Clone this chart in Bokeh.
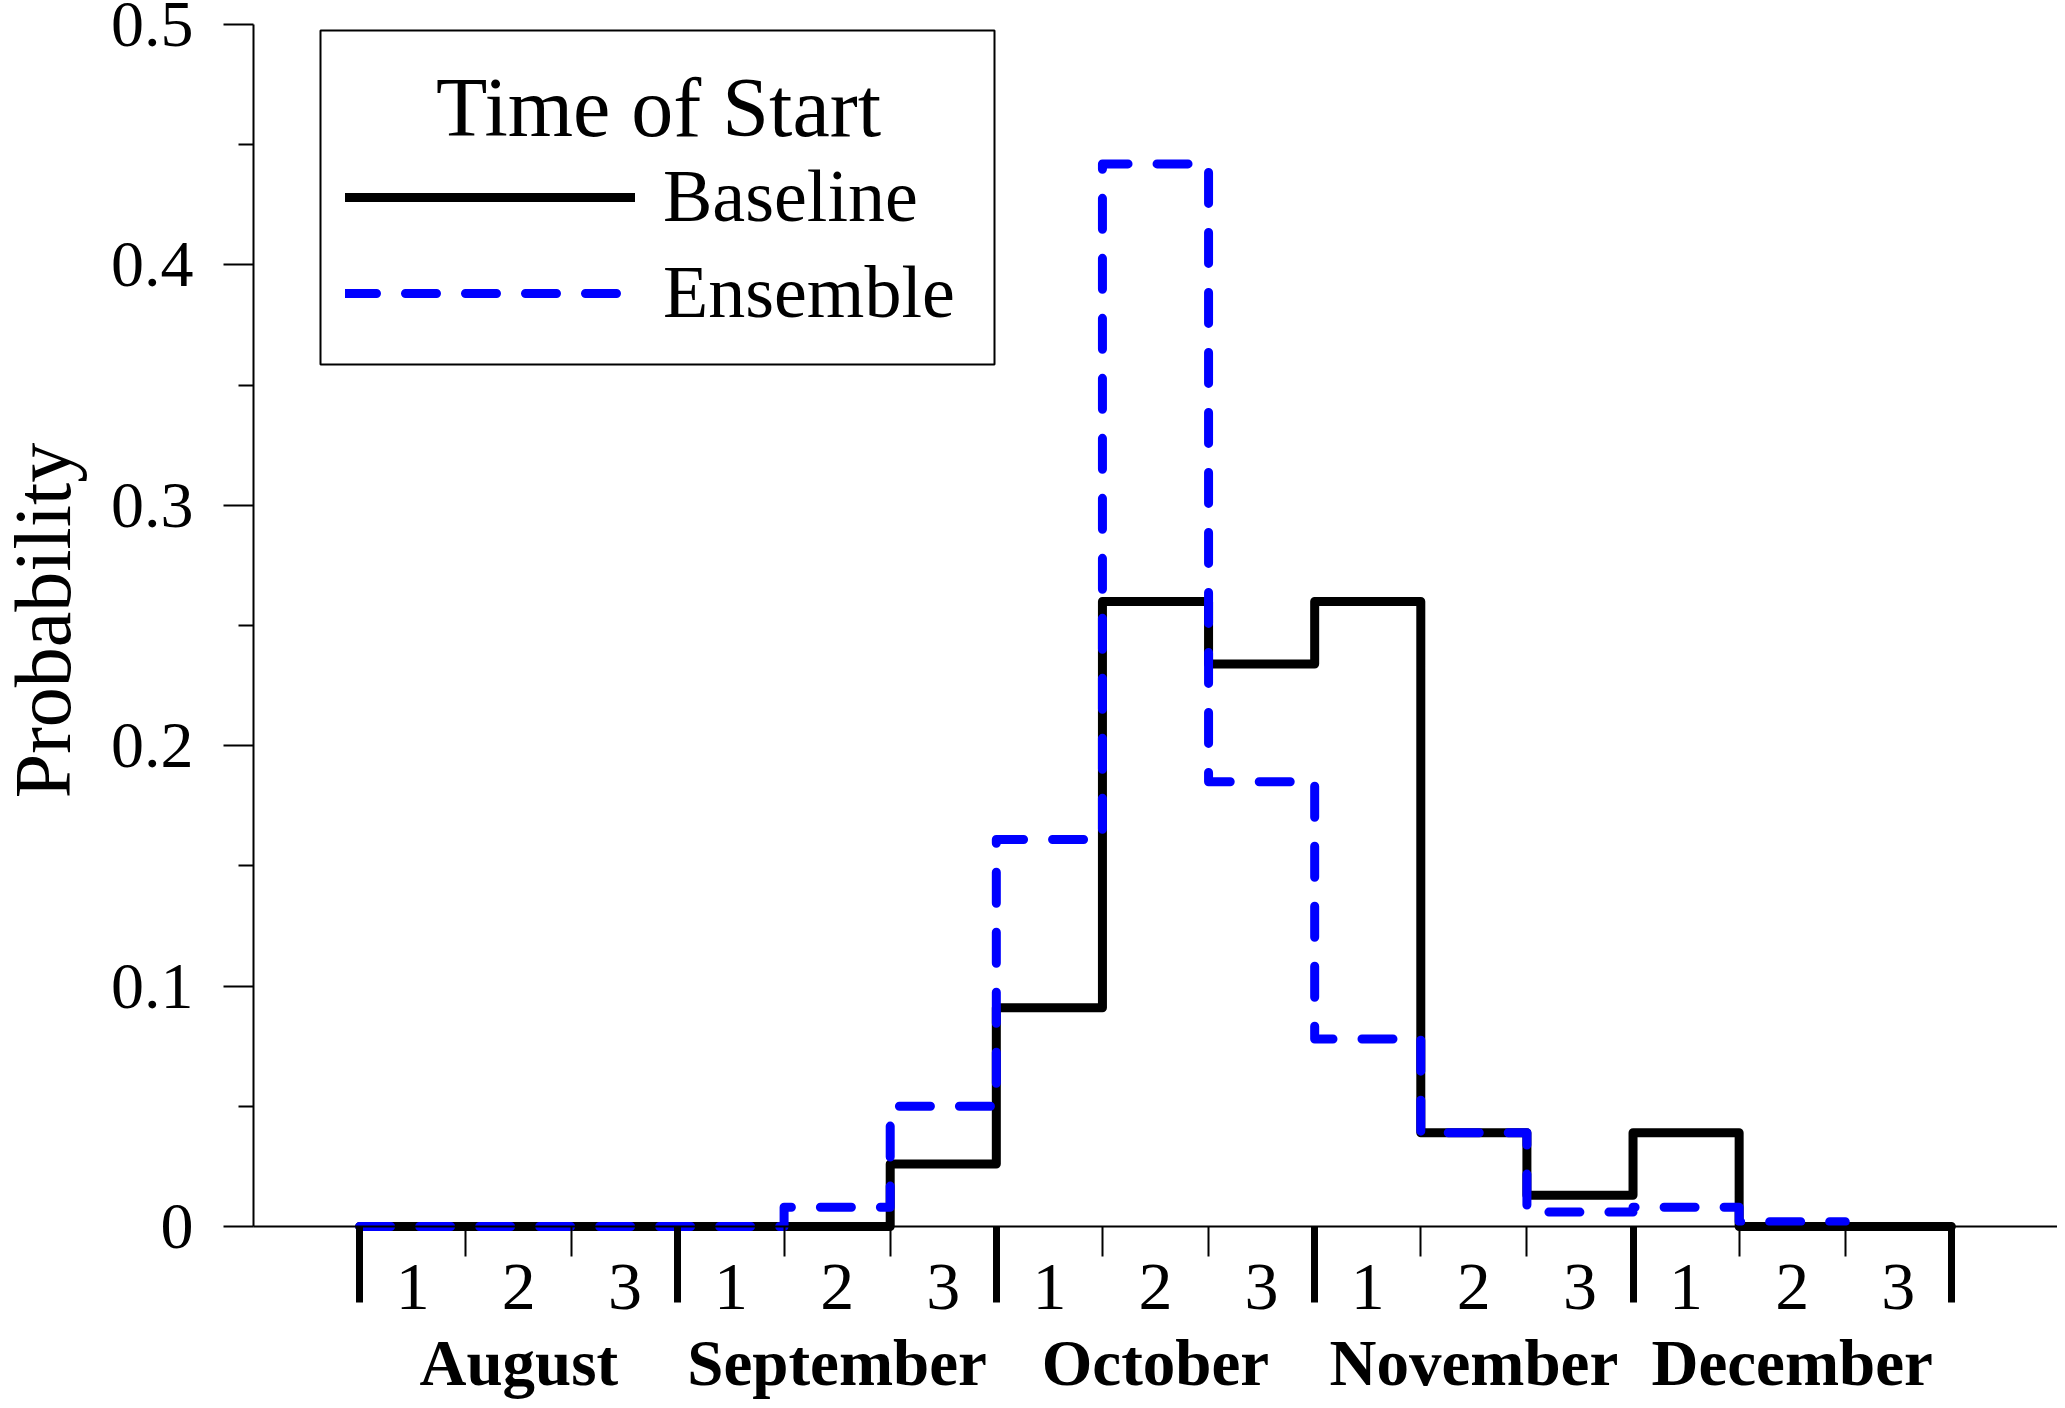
import math
from bokeh.plotting import figure
from bokeh.models import Range1d, LinearAxis, FixedTicker, Legend, LegendItem, Label, BoxAnnotation
from bokeh.embed import file_html
from bokeh.resources import INLINE

# ---- data ----
months = ["August", "September", "October", "November", "December"]
week_labels = ["1", "2", "3"]
baseline = [0, 0, 0, 0, 0, 0.026, 0.091, 0.260, 0.234, 0.260, 0.039, 0.013, 0.039, 0, 0]
ensemble = [0, 0, 0, 0, 0.008, 0.050, 0.161, 0.442, 0.185, 0.078, 0.039, 0.006, 0.008, 0.002]
y_ticks = [0, 0.1, 0.2, 0.3, 0.4, 0.5]
y_tick_labels = ["0", "0.1", "0.2", "0.3", "0.4", "0.5"]
y_minor = [0.05, 0.15, 0.25, 0.35, 0.45]
y_title = "Probability"
legend_title = "Time of Start"
series_names = ["Baseline", "Ensemble"]

FONT = "Liberation Serif"
n_weeks = len(months) * 3

# ---- layout (pixels) ----
W, H = 2057, 1400
AX_X = 253                        # pixel column of the y axis (x = -1)
TOP = 24                          # pixel row of probability 0.5
Y0_PX = 1226                      # pixel row of probability 0
x_lo, x_hi = -1, n_weeks + 1
px_per_x = (W - AX_X) / (x_hi - x_lo)
x_start = x_lo - AX_X / px_per_x
y_per_px = 0.5 / (Y0_PX - TOP)
y_start = -(H - Y0_PX) * y_per_px
y_end = 0.5 + TOP * y_per_px

p = figure(width=W, height=H, x_range=Range1d(x_start, x_hi), y_range=Range1d(y_start, y_end),
           output_backend="svg", toolbar_location=None, x_axis_location=None,
           min_border_left=0, min_border_top=0, min_border_right=0, min_border_bottom=0)
p.outline_line_color = None
p.grid.grid_line_color = None
p.background_fill_color = "white"

# ---- y axis ----
ya = p.yaxis[0]
ya.fixed_location = x_lo
ya.ticker = FixedTicker(ticks=y_ticks, minor_ticks=y_minor)
ya.bounds = (0, 0.5)
ya.major_label_overrides = {t: s for t, s in zip(y_ticks, y_tick_labels)}
ya.axis_line_width = 2
ya.major_tick_line_width = 2
ya.minor_tick_line_width = 2
ya.major_tick_out = 30
ya.major_tick_in = 0
ya.minor_tick_out = 15
ya.minor_tick_in = 0
ya.major_label_text_font = FONT
ya.major_label_text_font_size = "66px"
ya.major_label_text_color = "black"
ya.major_label_standoff = 30

ylab = Label(x=42, y=H - 620, x_units="screen", y_units="screen", text=y_title,
             angle=math.pi / 2, text_font=FONT, text_font_size="80px", text_color="black",
             text_align="center", text_baseline="middle")
p.add_layout(ylab)

# ---- x axis: tick marks at month / week boundaries ----
month_edges = list(range(0, n_weeks + 1, 3))
week_edges = [w for w in range(n_weeks + 1) if w % 3 != 0]
xa = LinearAxis(ticker=FixedTicker(ticks=month_edges, minor_ticks=week_edges), fixed_location=0)
xa.bounds = (x_lo, x_hi)
xa.major_label_overrides = {t: "" for t in month_edges}
xa.axis_line_width = 2
xa.major_tick_line_width = 7
xa.major_tick_out = 76
xa.major_tick_in = 0
xa.minor_tick_line_width = 2
xa.minor_tick_out = 30
xa.minor_tick_in = 0
p.add_layout(xa, "below")

# week number labels
week_centers = [w + 0.5 for w in range(n_weeks)]
xb = LinearAxis(ticker=FixedTicker(ticks=week_centers), fixed_location=0)
xb.major_label_overrides = {c: week_labels[i % 3] for i, c in enumerate(week_centers)}
xb.axis_line_color = None
xb.major_tick_line_color = None
xb.major_tick_out = 0
xb.major_tick_in = 0
xb.major_label_text_font = FONT
xb.major_label_text_font_size = "68px"
xb.major_label_text_color = "black"
xb.major_label_standoff = 38
p.add_layout(xb, "below")

# month labels
month_centers = [3 * i + 1.5 for i in range(len(months))]
xc = LinearAxis(ticker=FixedTicker(ticks=month_centers), fixed_location=0)
xc.major_label_overrides = {c: m for c, m in zip(month_centers, months)}
xc.axis_line_color = None
xc.major_tick_line_color = None
xc.major_tick_out = 0
xc.major_tick_in = 0
xc.major_label_text_font = FONT
xc.major_label_text_font_style = "bold"
xc.major_label_text_font_size = "65px"
xc.major_label_text_color = "black"
xc.major_label_standoff = 100
p.add_layout(xc, "below")

# ---- step lines ----
bx = list(range(len(baseline) + 1))
by = baseline + [baseline[-1]]
ex = list(range(len(ensemble) + 1))
ey = ensemble + [ensemble[-1]]

r_base = p.step(bx, by, mode="after", line_color="black", line_width=9,
                line_join="round", line_cap="round")
r_ens = p.step(ex, ey, mode="after", line_color="#0000FF", line_width=9,
               line_dash="31 29", line_join="round", line_cap="round")

# ---- legend (box + centred title + entries) ----
box = BoxAnnotation(left=320, right=994, top=H - 30, bottom=H - 364,
                    left_units="screen", right_units="screen", top_units="screen", bottom_units="screen",
                    fill_color=None, fill_alpha=0, line_color="black", line_alpha=1.0, line_width=2)
p.add_layout(box)
title = Label(x=658, y=H - 107, x_units="screen", y_units="screen", text=legend_title,
              text_font=FONT, text_font_size="84px", text_color="black",
              text_align="center", text_baseline="middle")
p.add_layout(title)

legend = Legend(items=[LegendItem(label=series_names[0], renderers=[r_base]),
                       LegendItem(label=series_names[1], renderers=[r_ens])],
                location=(345, H - 335),
                label_text_font=FONT, label_text_font_size="74px", label_text_color="black",
                glyph_width=290, glyph_height=80, label_height=80, label_standoff=28,
                spacing=11, padding=0, margin=0,
                border_line_color=None, background_fill_alpha=0.0)
p.add_layout(legend, "center")

open("out.html", "w").write(file_html(p, INLINE))
